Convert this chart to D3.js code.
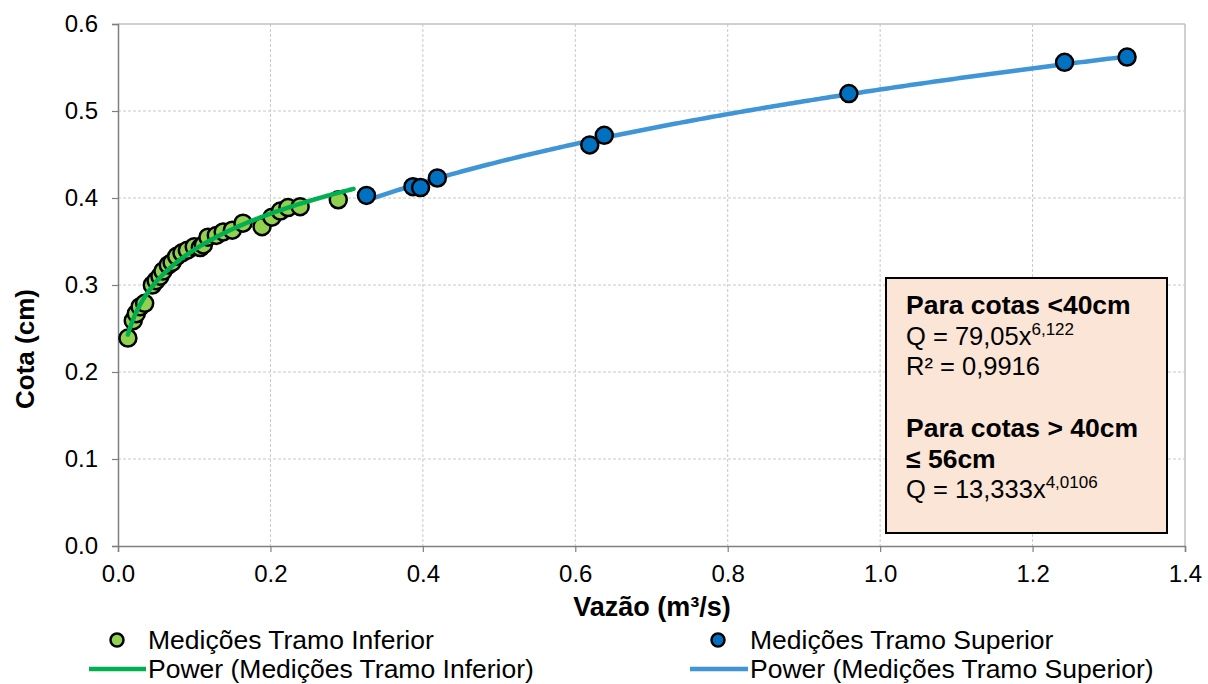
<!DOCTYPE html>
<html>
<head>
<meta charset="utf-8">
<script src="https://cdn.jsdelivr.net/npm/d3@7"></script>
<style>
  html, body { margin: 0; padding: 0; background: #fff; }
  svg { display: block; font-family: "Liberation Sans", Arial, sans-serif; }
</style>
</head>
<body>
<svg id="chart" width="1208" height="684"></svg>
<script>
// ---- Data ----
const inferiorQ = [0.013, 0.020, 0.024, 0.029, 0.035, 0.045, 0.050, 0.055, 0.059, 0.066,
                   0.071, 0.077, 0.084, 0.091, 0.100, 0.108, 0.112, 0.118, 0.129, 0.138,
                   0.150, 0.164, 0.189, 0.202, 0.213, 0.223, 0.239, 0.289];
const inferiorCota = [0.239, 0.259, 0.267, 0.275, 0.279, 0.300, 0.305, 0.310, 0.316, 0.323,
                      0.326, 0.333, 0.337, 0.340, 0.344, 0.343, 0.346, 0.355, 0.357, 0.361,
                      0.363, 0.371, 0.367, 0.378, 0.385, 0.389, 0.390, 0.398];
const superiorQ = [0.326, 0.387, 0.397, 0.419, 0.619, 0.638, 0.959, 1.242, 1.324];
const superiorCota = [0.403, 0.413, 0.412, 0.423, 0.461, 0.472, 0.520, 0.556, 0.562];

const xTicks = [0, 0.2, 0.4, 0.6, 0.8, 1.0, 1.2, 1.4];
const yTicks = [0, 0.1, 0.2, 0.3, 0.4, 0.5, 0.6];

const seriesNames = ["Medições Tramo Inferior", "Medições Tramo Superior"];
const trendNames = ["Power (Medições Tramo Inferior)", "Power (Medições Tramo Superior)"];
const boxLines = [
  {bold: true, text: "Para cotas <40cm"},
  {bold: false, text: "Q = 79,05x", sup: "6,122"},
  {bold: false, text: "R² = 0,9916"},
  {bold: false, text: ""},
  {bold: true, text: "Para cotas > 40cm"},
  {bold: true, text: "≤ 56cm"},
  {bold: false, text: "Q = 13,333x", sup: "4,0106"}
];

// ---- Layout ----
const svg = d3.select("#chart");
const M = {left: 118, right: 1185, top: 24, bottom: 546};
const x = d3.scaleLinear().domain([0, 1.4]).range([M.left, M.right]);
const y = d3.scaleLinear().domain([0, 0.6]).range([M.bottom, M.top]);

const colGreenFill = "#92D050", colGreenLine = "#00B050";
const colBlueFill = "#0070C0", colBlueLine = "#3F95D6";

// Gridlines (last one solid, like the plot-area edge)
svg.append("g").selectAll("line").data(xTicks.slice(1)).join("line")
  .attr("x1", d => x(d)).attr("x2", d => x(d)).attr("y1", M.top).attr("y2", M.bottom)
  .attr("stroke", (d, i, n) => i === n.length - 1 ? "#c0c0c0" : "#c8c8c8")
  .attr("stroke-width", (d, i, n) => i === n.length - 1 ? 1.5 : 1)
  .attr("stroke-dasharray", (d, i, n) => i === n.length - 1 ? null : "3,2");
svg.append("g").selectAll("line").data(yTicks.slice(1)).join("line")
  .attr("x1", M.left).attr("x2", M.right).attr("y1", d => y(d)).attr("y2", d => y(d))
  .attr("stroke", (d, i, n) => i === n.length - 1 ? "#c0c0c0" : "#c8c8c8")
  .attr("stroke-width", (d, i, n) => i === n.length - 1 ? 1.5 : 1)
  .attr("stroke-dasharray", (d, i, n) => i === n.length - 1 ? null : "3,2");

// Axes
const xAxis = svg.append("g").attr("transform", `translate(0,${M.bottom})`)
  .call(d3.axisBottom(x).tickValues(xTicks).tickFormat(d3.format(".1f")).tickSizeOuter(0).tickSize(6).tickPadding(12));
const yAxis = svg.append("g").attr("transform", `translate(${M.left},0)`)
  .call(d3.axisLeft(y).tickValues(yTicks).tickFormat(d3.format(".1f")).tickSizeOuter(0).tickSize(6).tickPadding(14));
[xAxis, yAxis].forEach(a => {
  a.select(".domain").attr("stroke", "#7f7f7f").attr("stroke-width", 1.5);
  a.selectAll(".tick line").attr("stroke", "#7f7f7f").attr("stroke-width", 1.2);
  a.selectAll(".tick text").attr("font-size", 24).attr("fill", "#000")
    .attr("font-family", "'Liberation Sans', Arial, sans-serif");
});
xAxis.selectAll(".tick text").attr("dy", "0.75em");

// Axis titles
svg.append("text").attr("x", 652).attr("y", 616)
  .attr("text-anchor", "middle").attr("font-size", 27).attr("font-weight", "bold")
  .text("Vazão (m³/s)");
svg.append("text").attr("transform", `translate(34,349) rotate(-90)`)
  .attr("text-anchor", "middle").attr("font-size", 26).attr("font-weight", "bold")
  .text("Cota (cm)");

// Power regression (least squares in log-log space, as a spreadsheet "Power" trendline)
function powerFit(xs, ys) {
  const lx = xs.map(Math.log), ly = ys.map(Math.log);
  const mx = d3.mean(lx), my = d3.mean(ly);
  const b = d3.sum(lx.map((v, i) => (v - mx) * (ly[i] - my))) / d3.sum(lx.map(v => (v - mx) ** 2));
  const a = Math.exp(my - b * mx);
  return q => a * Math.pow(q, b);
}
function trendPath(xs, ys, extend) {
  const f = powerFit(xs, ys);
  const [lo, hi] = d3.extent(xs);
  const qs = d3.range(0, 201).map(i => lo + (hi + extend - lo) * i / 200);
  return d3.line().x(q => x(q)).y(q => y(f(q)))(qs);
}

const inferior = inferiorQ.map((q, i) => ({q, c: inferiorCota[i]}));
const superior = superiorQ.map((q, i) => ({q, c: superiorCota[i]}));

const R = 8.5;
svg.append("g").selectAll("circle").data(inferior).join("circle")
  .attr("cx", d => x(d.q)).attr("cy", d => y(d.c)).attr("r", R)
  .attr("fill", colGreenFill).attr("stroke", "#000").attr("stroke-width", 2.5);
svg.append("path").attr("d", trendPath(inferiorQ, inferiorCota, 0.02))
  .attr("fill", "none").attr("stroke", colGreenLine).attr("stroke-width", 4.5).attr("stroke-linecap", "round");
svg.append("path").attr("d", trendPath(superiorQ, superiorCota, 0))
  .attr("fill", "none").attr("stroke", colBlueLine).attr("stroke-width", 4.5).attr("stroke-linecap", "round");
svg.append("g").selectAll("circle").data(superior).join("circle")
  .attr("cx", d => x(d.q)).attr("cy", d => y(d.c)).attr("r", R)
  .attr("fill", colBlueFill).attr("stroke", "#000").attr("stroke-width", 2.5);

// Annotation box
const box = svg.append("g").attr("transform", "translate(886,278)");
box.append("rect").attr("width", 281).attr("height", 255)
  .attr("fill", "#FBE5D6").attr("stroke", "#000").attr("stroke-width", 2);
boxLines.forEach((l, i) => {
  const t = box.append("text").attr("x", 20).attr("y", 36 + i * 30.7)
    .attr("font-size", l.bold ? 26.5 : 25.5).attr("font-weight", l.bold ? "bold" : "normal").attr("fill", "#000");
  t.append("tspan").text(l.text);
  if (l.sup) t.append("tspan").attr("dy", -10).attr("font-size", 17).text(l.sup);
});

// Legend
const legend = svg.append("g").attr("font-size", 26.5);
const legendItems = [
  {kind: "dot", fill: colGreenFill, cx: 117, y: 640, tx: 148, label: seriesNames[0]},
  {kind: "dot", fill: colBlueFill, cx: 718, y: 640, tx: 750, label: seriesNames[1]},
  {kind: "line", stroke: colGreenLine, x1: 89, x2: 146, y: 669, tx: 148, label: trendNames[0]},
  {kind: "line", stroke: colBlueLine, x1: 690, x2: 748, y: 669, tx: 750, label: trendNames[1]}
];
legendItems.forEach(d => {
  if (d.kind === "dot") {
    legend.append("circle").attr("cx", d.cx).attr("cy", d.y).attr("r", 6.5)
      .attr("fill", d.fill).attr("stroke", "#000").attr("stroke-width", 2.5);
  } else {
    legend.append("line").attr("x1", d.x1).attr("x2", d.x2).attr("y1", d.y).attr("y2", d.y)
      .attr("stroke", d.stroke).attr("stroke-width", 4.5);
  }
  legend.append("text").attr("x", d.tx).attr("y", d.y + 9).attr("fill", "#000").text(d.label);
});
</script>
</body>
</html>
